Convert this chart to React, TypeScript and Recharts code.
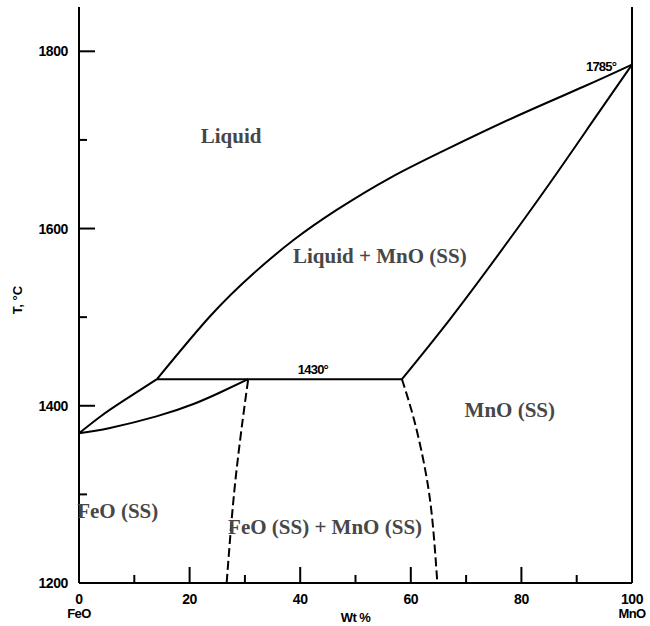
import { LineChart, Line, XAxis, YAxis, ReferenceDot } from 'recharts';

// FeO - MnO binary phase diagram (composition in wt% MnO, temperature in °C)

const liquidusFeO = [
  { x: 0, y: 1369 },
  { x: 4, y: 1388.5 },
  { x: 8, y: 1405.5 },
  { x: 14.1, y: 1430 },
];

const liquidusMnO = [
  { x: 14.1, y: 1430 },
  { x: 23.7, y: 1501 },
  { x: 31.5, y: 1549 },
  { x: 38.8, y: 1587 },
  { x: 46.6, y: 1621 },
  { x: 56.2, y: 1657 },
  { x: 67, y: 1691 },
  { x: 79.2, y: 1727 },
  { x: 91.2, y: 1760 },
  { x: 100, y: 1785 },
];

const solidusFeO = [
  { x: 0, y: 1369 },
  { x: 5.6, y: 1375 },
  { x: 14, y: 1388 },
  { x: 20.7, y: 1402 },
  { x: 25.5, y: 1415 },
  { x: 30.6, y: 1430 },
];

const solidusMnO = [
  { x: 58.4, y: 1430 },
  { x: 67, y: 1497 },
  { x: 76, y: 1572 },
  { x: 85, y: 1650 },
  { x: 93, y: 1722 },
  { x: 100, y: 1785 },
];

const peritectic = [
  { x: 14.1, y: 1430 },
  { x: 58.4, y: 1430 },
];

const solvusFeO = [
  { x: 26.7, y: 1200 },
  { x: 27.6, y: 1271 },
  { x: 28.5, y: 1328 },
  { x: 29.6, y: 1384 },
  { x: 30.6, y: 1430 },
];

const solvusMnO = [
  { x: 58.4, y: 1430 },
  { x: 60.6, y: 1384 },
  { x: 62.6, y: 1328 },
  { x: 63.9, y: 1271 },
  { x: 64.8, y: 1200 },
];

const xTicks = [0, 10, 20, 30, 40, 50, 60, 70, 80, 90, 100];
const xLabelled = [0, 20, 40, 60, 80, 100];
const xEndNames: Record<number, string> = { 0: 'FeO', 100: 'MnO' };

const yTicks = [1200, 1300, 1400, 1500, 1600, 1700, 1800];
const yLabelled = [1200, 1400, 1600, 1800];

const regionLabels = [
  { x: 27.5, y: 1704, text: 'Liquid' },
  { x: 54.4, y: 1569, text: 'Liquid + MnO (SS)' },
  { x: 77.9, y: 1395, text: 'MnO (SS)' },
  { x: 7.0, y: 1281, text: 'FeO (SS)' },
  { x: 44.5, y: 1263, text: 'FeO (SS) + MnO (SS)' },
];

const pointLabels = [
  { x: 42.3, y: 1441, text: '1430°' },
  { x: 94.4, y: 1783, text: '1785°' },
];

const sans = '"Liberation Sans", Arial, sans-serif';
const serif = '"Liberation Serif", "Times New Roman", serif';

const XTick = (props: any) => {
  const { x, y, payload } = props;
  const v = payload.value;
  const major = xLabelled.includes(v);
  return (
    <g>
      <line x1={x} x2={x} y1={y} y2={y - (major ? 16 : 8)} stroke="#000" strokeWidth={2} />
      {major && (
        <text x={x} y={y + 21} textAnchor="middle" fontFamily={sans} fontWeight="bold" fontSize={14} letterSpacing={-0.4} fill="#000">
          {v}
        </text>
      )}
      {xEndNames[v] && (
        <text x={x} y={y + 35} textAnchor="middle" fontFamily={sans} fontWeight="bold" fontSize={13} letterSpacing={-0.6} fill="#000">
          {xEndNames[v]}
        </text>
      )}
    </g>
  );
};

const YTickLeft = (props: any) => {
  const { x, y, payload } = props;
  const major = yLabelled.includes(payload.value);
  return (
    <g>
      <line x1={x} x2={x + (major ? 16 : 8)} y1={y} y2={y} stroke="#000" strokeWidth={2} />
      {major && (
        <text x={x - 11} y={y + 5} textAnchor="end" fontFamily={sans} fontWeight="bold" fontSize={14} letterSpacing={-0.4} fill="#000">
          {payload.value}
        </text>
      )}
    </g>
  );
};

const YTickRight = (props: any) => {
  const { x, y, payload } = props;
  const major = yLabelled.includes(payload.value);
  return <line x1={x} x2={x - (major ? 16 : 8)} y1={y} y2={y} stroke="#000" strokeWidth={2} />;
};

const regionText = (text: string) => (p: any) => (
  <text x={p.cx} y={p.cy} dy={7} textAnchor="middle" fontFamily={serif} fontWeight="bold" fontSize={21} fill="#474747">
    {text}
  </text>
);

const pointText = (text: string) => (p: any) => (
  <text x={p.cx} y={p.cy} dy={5} textAnchor="middle" fontFamily={sans} fontWeight="bold" fontSize={13} letterSpacing={-0.8} fill="#000">
    {text}
  </text>
);

const axisStyle = { stroke: '#000', strokeWidth: 2 };

export default function App() {
  const curve = (data: { x: number; y: number }[], key: string, type: 'natural' | 'linear', dashed = false) => (
    <Line
      key={key}
      data={data}
      dataKey="y"
      type={type}
      stroke="#000"
      strokeWidth={2}
      strokeDasharray={dashed ? '9 4' : undefined}
      dot={false}
      activeDot={false}
      isAnimationActive={false}
    />
  );

  return (
    <div style={{ position: 'absolute', left: 0, top: 0, background: '#fff' }}>
      <LineChart width={650} height={626} margin={{ top: 7, right: 0, bottom: 0, left: 0 }}>
        <XAxis
          dataKey="x"
          type="number"
          domain={[0, 100]}
          ticks={xTicks}
          interval={0}
          height={43}
          tickSize={0}
          tickMargin={0}
          tickLine={false}
          axisLine={axisStyle}
          tick={<XTick />}
          label={{ value: 'Wt %', position: 'insideBottom', offset: 4, fontFamily: sans, fontWeight: 'bold', fontSize: 13, letterSpacing: -0.6, fill: '#000' }}
        />
        <XAxis xAxisId="top" orientation="top" type="number" domain={[0, 100]} height={0} tick={false} tickLine={false} axisLine={axisStyle} />
        <YAxis
          type="number"
          domain={[1200, 1850]}
          ticks={yTicks}
          interval={0}
          width={79}
          tickSize={0}
          tickMargin={0}
          tickLine={false}
          axisLine={axisStyle}
          tick={<YTickLeft />}
          label={{
            content: (p: any) => {
              const vb = p.viewBox;
              const cx = vb.x + 18;
              const cy = vb.y + vb.height / 2 + 5;
              return (
                <text x={cx} y={cy} transform={`rotate(-90, ${cx}, ${cy})`} dy={4} textAnchor="middle" fontFamily={sans} fontWeight="bold" fontSize={13} fill="#000">
                  T, °C
                </text>
              );
            },
          }}
        />
        <YAxis
          yAxisId="right"
          orientation="right"
          type="number"
          domain={[1200, 1850]}
          ticks={yTicks}
          interval={0}
          width={18}
          tickSize={0}
          tickMargin={0}
          tickLine={false}
          axisLine={axisStyle}
          tick={<YTickRight />}
        />

        {curve(liquidusFeO, 'liqFeO', 'natural')}
        {curve(liquidusMnO, 'liqMnO', 'natural')}
        {curve(solidusFeO, 'solFeO', 'natural')}
        {curve(solidusMnO, 'solMnO', 'natural')}
        {curve(peritectic, 'peri', 'linear')}
        {curve(solvusFeO, 'solvFeO', 'natural', true)}
        {curve(solvusMnO, 'solvMnO', 'natural', true)}

        {regionLabels.map((l) => (
          <ReferenceDot key={l.text} x={l.x} y={l.y} r={0} shape={regionText(l.text)} />
        ))}
        {pointLabels.map((l) => (
          <ReferenceDot key={l.text} x={l.x} y={l.y} r={0} shape={pointText(l.text)} />
        ))}
      </LineChart>
    </div>
  );
}
